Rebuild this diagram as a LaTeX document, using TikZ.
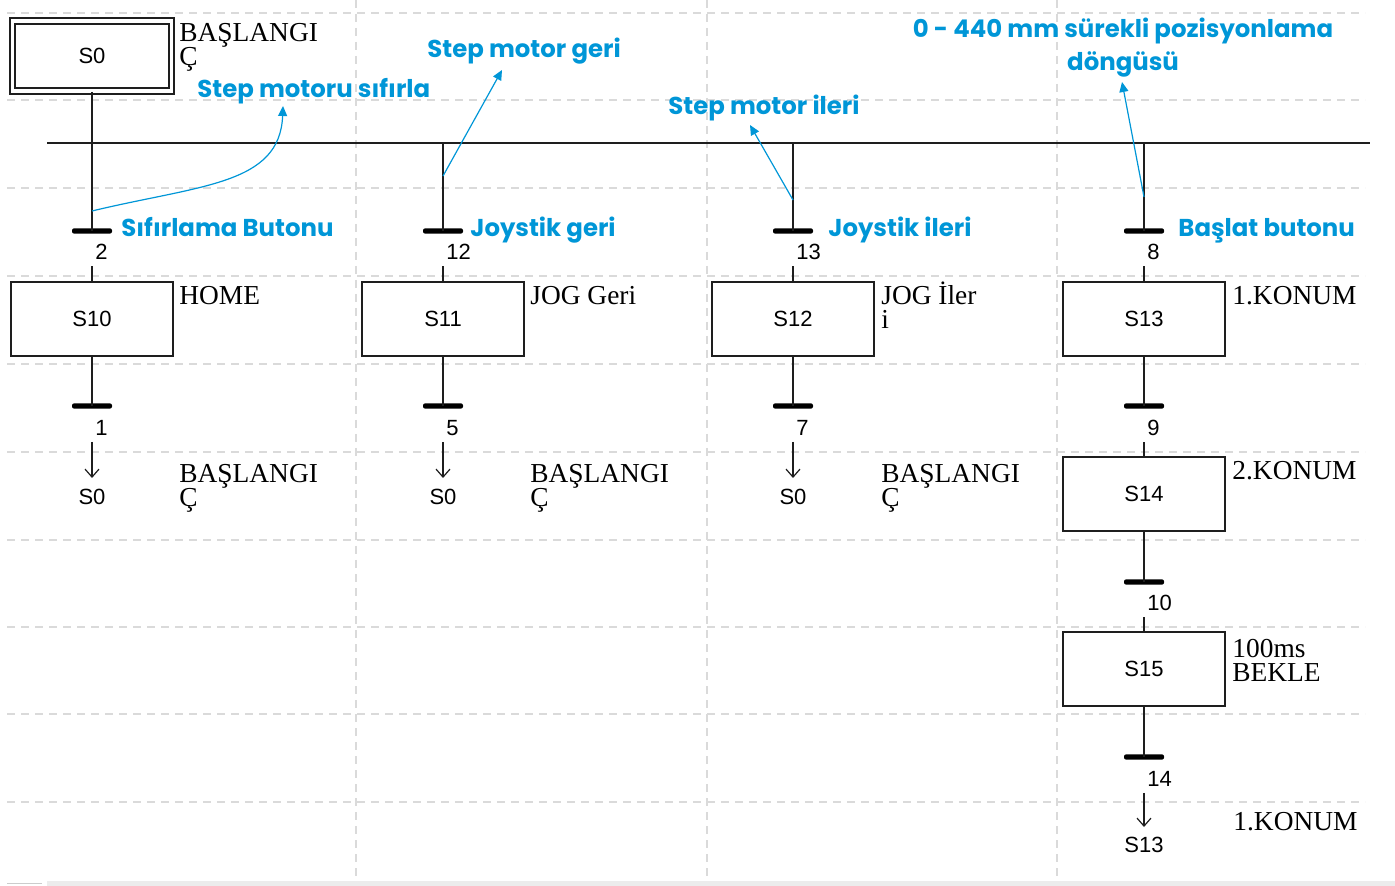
\documentclass[tikz,border=0pt]{standalone}
\usepackage{fontspec}
\setmainfont{Liberation Serif}
\setsansfont{Liberation Sans}
\newfontfamily\notefont{Poppins}
\usetikzlibrary{arrows.meta}
\definecolor{noteblue}{RGB}{0,150,215}
\definecolor{gridgray}{RGB}{218,218,218}
\definecolor{linegray}{RGB}{30,30,30}
\tikzset{
  stepbox/.style={draw=linegray, line width=1pt, minimum width=81pt, minimum height=37pt,
    inner sep=0pt, font=\sffamily\fontsize{11}{13}\selectfont},
  initbox/.style={stepbox, double, double distance=1.8pt, line width=0.9pt,
    minimum width=79.5pt, minimum height=35pt},
  trbar/.style={fill=black, rounded corners=1pt, minimum width=20pt, minimum height=2.6pt, inner sep=0pt},
  trnum/.style={anchor=west, inner xsep=0pt, inner ysep=3pt, font=\sffamily\fontsize{11}{13}\selectfont},
  cmt/.style={anchor=base west, inner sep=0pt, align=left, font=\fontsize{13.7}{12}\selectfont},
  note/.style={anchor=base west, inner sep=0pt, text=noteblue, font=\notefont\bfseries\fontsize{12.2}{16.5}\selectfont},
  noteline/.style={noteblue, line width=0.6pt, -{Triangle[length=5pt,width=4.5pt]}},
  link/.style={linegray, line width=1pt},
  jump/.style={linegray, line width=0.6pt, -{Straight Barb[length=4pt,width=7pt]}},
  gridline/.style={gridgray, line width=0.6pt, dash pattern=on 4pt off 3pt}
}
\begin{document}
\begin{tikzpicture}[x=0.5pt, y=-0.5pt]
  \useasboundingbox (0,0) rectangle (1395,886);
  \foreach \y in {13,100,188,276,364,452,540,627,714,802}
    \draw[gridline] (7,\y) -- (1365,\y);
  \foreach \x in {356,707,1057}
    \draw[gridline] (\x,0) -- (\x,880);
  \fill[gray!15] (47,881) rectangle (1395,886);
  \draw[gray!40] (7,883) -- (42,883);

  \node[initbox] (s0) at (92,56) {S0};
  \node[cmt] (c0) at (179,66) {BAŞLANGI\\Ç};

  \coordinate (busl) at (47,143);
  \coordinate (busr) at (1370,143);
  \draw[link] (busl) -- (busr);

  \node[trbar] (t2) at (92,231) {};
  \node[trbar] (t12) at (443,231) {};
  \node[trbar] (t13) at (793,231) {};
  \node[trbar] (t8) at (1144,231) {};
  \node[trnum] (n2) at (95,252) {2};
  \node[trnum] (n12) at (446,252) {12};
  \node[trnum] (n13) at (796,252) {13};
  \node[trnum] (n8) at (1147,252) {8};

  \node[stepbox] (s10) at (92,319) {S10};
  \node[stepbox] (s11) at (443,319) {S11};
  \node[stepbox] (s12) at (793,319) {S12};
  \node[stepbox] (s13) at (1144,319) {S13};
  \node[stepbox] (s14) at (1144,494) {S14};
  \node[stepbox] (s15) at (1144,669) {S15};
  \node[cmt] (c10) at (179,305) {HOME};
  \node[cmt] (c11) at (530,305) {JOG Geri};
  \node[cmt] (c12) at (881,329) {JOG İler\\i};
  \node[cmt] (c13) at (1232,305) {1.KONUM};
  \node[cmt] (c14) at (1232,480) {2.KONUM};
  \node[cmt] (c15) at (1232,681) {100ms\\BEKLE};

  \node[trbar] (t1) at (92,406) {};
  \node[trbar] (t5) at (443,406) {};
  \node[trbar] (t7) at (793,406) {};
  \node[trbar] (t9) at (1144,406) {};
  \node[trbar] (t10) at (1144,582) {};
  \node[trbar] (t14) at (1144,757) {};
  \node[trnum] (n1) at (95,428) {1};
  \node[trnum] (n5) at (446,428) {5};
  \node[trnum] (n7) at (796,428) {7};
  \node[trnum] (n9) at (1147,428) {9};
  \node[trnum] (n10) at (1147,603) {10};
  \node[trnum] (n14) at (1147,779) {14};

  \node[stepbox, draw=none] (j1) at (92,497) {S0};
  \node[stepbox, draw=none] (j5) at (443,497) {S0};
  \node[stepbox, draw=none] (j7) at (793,497) {S0};
  \node[stepbox, draw=none] (j14) at (1144,845) {S13};
  \node[cmt] (cj1) at (179,507) {BAŞLANGI\\Ç};
  \node[cmt] (cj5) at (530,507) {BAŞLANGI\\Ç};
  \node[cmt] (cj7) at (881,507) {BAŞLANGI\\Ç};
  \node[cmt] (cj14) at (1233,830) {1.KONUM};

  \draw[link] (s0.south) -- (t2.center);
  \draw[link] (t12 |- busl) -- (t12.center);
  \draw[link] (t13 |- busl) -- (t13.center);
  \draw[link] (t8 |- busl) -- (t8.center);
  \draw[link] (n2.south -| t2) -- (s10.north);
  \draw[link] (n12.south -| t12) -- (s11.north);
  \draw[link] (n13.south -| t13) -- (s12.north);
  \draw[link] (n8.south -| t8) -- (s13.north);
  \draw[link] (s10.south) -- (t1.center);
  \draw[link] (s11.south) -- (t5.center);
  \draw[link] (s12.south) -- (t7.center);
  \draw[link] (s13.south) -- (t9.center);
  \draw[link] (n9.south -| t9) -- (s14.north);
  \draw[link] (s14.south) -- (t10.center);
  \draw[link] (n10.south -| t10) -- (s15.north);
  \draw[link] (s15.south) -- (t14.center);
  \draw[jump] (n1.south -| t1) -- ([yshift=9.5pt]j1.center);
  \draw[jump] (n5.south -| t5) -- ([yshift=9.5pt]j5.center);
  \draw[jump] (n7.south -| t7) -- ([yshift=9.5pt]j7.center);
  \draw[jump] (n14.south -| t14) -- ([yshift=9pt]j14.center);

  \node[note] (nsf) at (197,98) {Step motoru sıfırla};
  \node[note] (ngeri) at (427,58) {Step motor geri};
  \node[note] (nileri) at (668,115) {Step motor ileri};
  \node[note, anchor=north, align=center] (nloop) at (1123,18) {0 - 440 mm sürekli pozisyonlama\\döngüsü};
  \node[note] (k2) at (121,237) {Sıfırlama Butonu};
  \node[note] (k12) at (470,237) {Joystik geri};
  \node[note] (k13) at (828,237) {Joystik ileri};
  \node[note] (k8) at (1178,237) {Başlat butonu};

  \coordinate (a0) at (92,211);
  \coordinate (h0) at (283,106);
  \coordinate (a1) at (443,176);
  \coordinate (h1) at (502,70);
  \coordinate (a2) at (793,200);
  \coordinate (h2) at (750,125);
  \coordinate (a3) at (1144,197);
  \coordinate (h3) at (1122,82);
  \draw[noteline] (a0) .. controls (200,185) and (280,185) .. (h0);
  \draw[noteline] (a1) -- (h1);
  \draw[noteline] (a2) -- (h2);
  \draw[noteline] (a3) -- (h3);
\end{tikzpicture}
\end{document}
